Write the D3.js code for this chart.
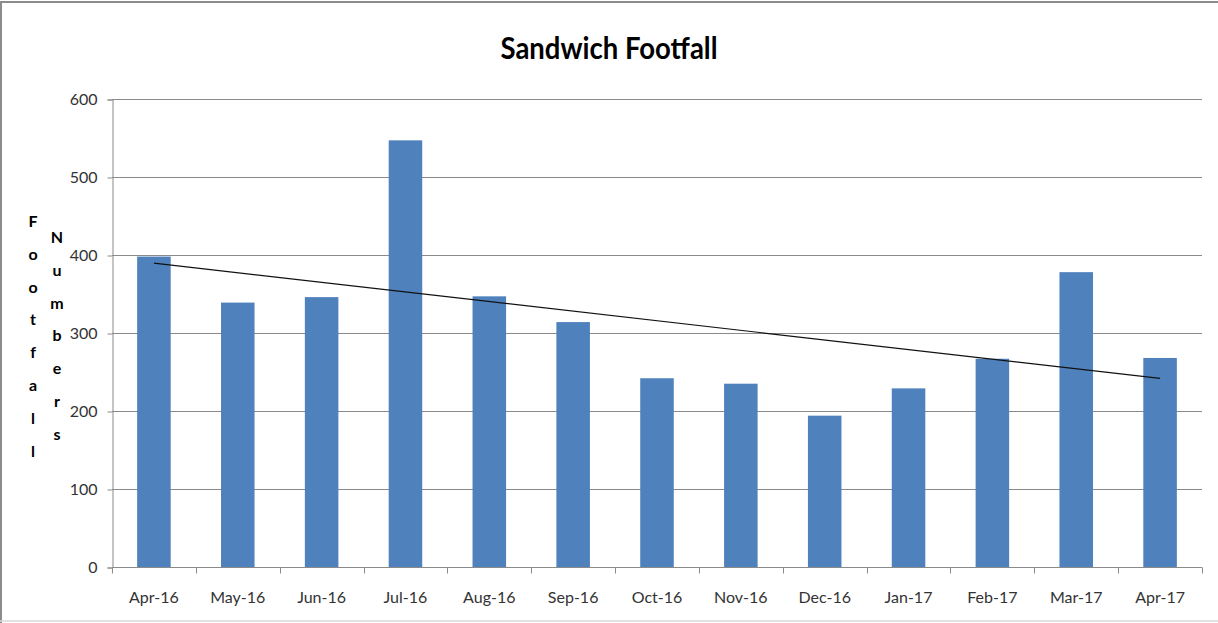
<!DOCTYPE html>
<html>
<head>
<meta charset="utf-8">
<script src="https://cdn.jsdelivr.net/npm/d3@7"></script>
<style>
  html, body { margin: 0; padding: 0; background: #fff; }
  svg { display: block; }
</style>
</head>
<body>
<svg id="chart" width="1218" height="623"></svg>
<script>
// Monthly sandwich footfall
const months = ["Apr-16", "May-16", "Jun-16", "Jul-16", "Aug-16", "Sep-16", "Oct-16",
                "Nov-16", "Dec-16", "Jan-17", "Feb-17", "Mar-17", "Apr-17"];
const footfall = [398, 339, 346, 547, 347, 314, 242, 235, 194, 229, 267, 378, 268];
const yTicks = [0, 100, 200, 300, 400, 500, 600];
const titleText = "Sandwich Footfall";
const yTitleCols = ["Footfall", "Numbers"];

const W = 1218, H = 623;
const margin = { top: 99, right: 16, bottom: 56, left: 112 };
const fontFamily = "Lato, 'Open Sans', Arial, sans-serif";
const svg = d3.select("#chart");

// outer frame: dark top/left edges, light bottom edge
svg.append("rect").attr("x", 1).attr("y", 2).attr("width", W + 20).attr("height", H + 20)
  .attr("fill", "#fff").attr("stroke", "#8c8c8c").attr("stroke-width", 2);
svg.append("line").attr("x1", 0).attr("x2", W).attr("y1", 621).attr("y2", 621)
  .attr("stroke", "#d9d9d9").attr("stroke-width", 1.5);

const x = d3.scaleBand().domain(months)
  .range([margin.left, W - margin.right]).paddingInner(0.6).paddingOuter(0.3);
const xb = d3.scaleBand().domain(months).range([margin.left, W - margin.right]);
const y = d3.scaleLinear().domain([0, 600]).range([H - margin.bottom, margin.top]);

// gridlines
svg.append("g").selectAll("line").data(yTicks.filter(d => d > 0)).join("line")
  .attr("x1", margin.left).attr("x2", W - margin.right)
  .attr("y1", d => Math.round(y(d)) + 0.5).attr("y2", d => Math.round(y(d)) + 0.5)
  .attr("stroke", "#8a8a8a").attr("stroke-width", 1);

// y axis
const yAxis = svg.append("g")
  .attr("transform", `translate(${margin.left + 0.5},0.5)`)
  .call(d3.axisLeft(y).tickValues(yTicks).tickSize(5).tickPadding(10));
yAxis.selectAll("line, path").attr("stroke", "#8a8a8a");
yAxis.selectAll("text").attr("font-family", fontFamily).attr("font-size", 16)
  .attr("fill", "#333");

// x axis with ticks between categories
const xAxisY = Math.round(y(0)) + 0.5;
const gx = svg.append("g");
gx.append("line").attr("x1", margin.left).attr("x2", W - margin.right)
  .attr("y1", xAxisY).attr("y2", xAxisY).attr("stroke", "#8a8a8a");
const boundaries = months.map(m => xb(m)).concat([W - margin.right]);
gx.selectAll("line.tk").data(boundaries).join("line").attr("class", "tk")
  .attr("x1", d => Math.round(d) + 0.5).attr("x2", d => Math.round(d) + 0.5)
  .attr("y1", xAxisY).attr("y2", xAxisY + 6).attr("stroke", "#8a8a8a");
gx.selectAll("text").data(months).join("text")
  .attr("x", d => xb(d) + xb.bandwidth() / 2).attr("y", 603)
  .attr("text-anchor", "middle").attr("font-family", fontFamily)
  .attr("font-size", 16).attr("fill", "#333").text(d => d);

// bars
svg.append("g").selectAll("rect").data(months).join("rect")
  .attr("x", d => x(d)).attr("width", x.bandwidth())
  .attr("y", (d, i) => y(footfall[i]))
  .attr("height", (d, i) => y(0) - y(footfall[i]))
  .attr("fill", "#4f81bd");

// linear trendline (least squares)
const n = footfall.length;
const xs = d3.range(n);
const mx = d3.mean(xs), my = d3.mean(footfall);
const slope = d3.sum(xs, i => (i - mx) * (footfall[i] - my)) / d3.sum(xs, i => (i - mx) ** 2);
const intercept = my - slope * mx;
const cx = i => xb(months[i]) + xb.bandwidth() / 2;
svg.append("line")
  .attr("x1", cx(0)).attr("y1", y(intercept))
  .attr("x2", cx(n - 1)).attr("y2", y(intercept + slope * (n - 1)))
  .attr("stroke", "#111").attr("stroke-width", 1.2);

// title
svg.append("text").attr("x", 609).attr("y", 59).attr("text-anchor", "middle")
  .attr("font-family", fontFamily).attr("font-weight", "bold")
  .attr("font-size", 30).attr("fill", "#000")
  .attr("textLength", 217).attr("lengthAdjust", "spacingAndGlyphs")
  .text(titleText);

// stacked-letter axis title
const colX = [33, 57], colY0 = [227, 243], step = 32.8;
yTitleCols.forEach((word, c) => {
  svg.append("g").selectAll("text").data(word.split("")).join("text")
    .attr("x", colX[c]).attr("y", (d, i) => colY0[c] + i * step)
    .attr("text-anchor", "middle").attr("font-family", fontFamily)
    .attr("font-weight", "bold").attr("font-size", 16).attr("fill", "#000")
    .text(d => d);
});
</script>
</body>
</html>
